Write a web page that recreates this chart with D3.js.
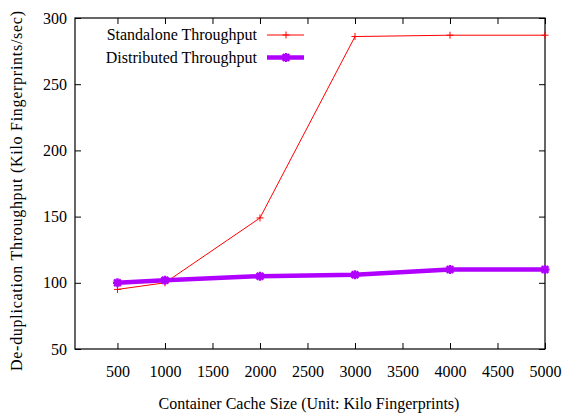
<!DOCTYPE html>
<html><head><meta charset="utf-8">
<script src="https://cdn.jsdelivr.net/npm/d3@7"></script>
<style>body{margin:0;background:#fff}svg{display:block}text{font-family:"Liberation Serif","Times New Roman",serif;fill:#000}</style>
</head><body><svg id="c" width="564" height="414"></svg>
<script>
const cacheSizes = [500, 1000, 2000, 3000, 4000, 5000];
const standalone = [95, 100, 149, 286, 287, 287];
const distributed = [100, 102, 105, 106, 110, 110];
const xTicks = [500, 1000, 1500, 2000, 2500, 3000, 3500, 4000, 4500, 5000];
const yTicks = [50, 100, 150, 200, 250, 300];
const seriesNames = ["Standalone Throughput", "Distributed Throughput"];

const svg = d3.select("#c");
const L = 75, R = 545, T = 18, B = 349;
const x = d3.scaleLinear().domain([53, 5000]).range([L, R]);
const y = d3.scaleLinear().domain([50, 300]).range([B, T]);
const FONT = "Liberation Serif, Times New Roman, serif";
const fs = "16px";

svg.append("rect").attr("x", L).attr("y", T).attr("width", R - L).attr("height", B - T)
  .attr("fill", "none").attr("stroke", "#000").attr("stroke-width", 1.2);

const ax = svg.append("g").attr("transform", `translate(0,${B})`)
  .call(d3.axisBottom(x).tickValues(xTicks).tickSize(-6).tickPadding(17).tickFormat(d3.format("d")));
const axT = svg.append("g").attr("transform", `translate(0,${T})`)
  .call(d3.axisTop(x).tickValues(xTicks).tickSize(-6).tickFormat(""));
const ay = svg.append("g").attr("transform", `translate(${L},0)`)
  .call(d3.axisLeft(y).tickValues(yTicks).tickSize(-6).tickPadding(8));
const ayR = svg.append("g").attr("transform", `translate(${R},0)`)
  .call(d3.axisRight(y).tickValues(yTicks).tickSize(-6).tickFormat(""));
[ax, axT, ay, ayR].forEach(g => {
  g.attr("font-family", FONT).attr("font-size", 16);
  g.select(".domain").remove();
  g.selectAll("line").attr("stroke", "#000").attr("stroke-width", 1);
  g.selectAll("text").style("font-size", fs).style("font-family", FONT);
});

const redC = "#ff0000", purC = "#b000ff";
const line = d3.line().x((d, i) => x(cacheSizes[i])).y(d => y(d));
svg.append("path").datum(standalone).attr("d", line).attr("fill", "none")
  .attr("stroke", redC).attr("stroke-width", 1);
svg.append("path").datum(distributed).attr("d", line).attr("fill", "none")
  .attr("stroke", purC).attr("stroke-width", 4.5).attr("stroke-linejoin", "round");

function plus(g, cx, cy, s, c, w) {
  g.append("path").attr("d", `M${cx - s},${cy}H${cx + s}M${cx},${cy - s}V${cy + s}`)
    .attr("stroke", c).attr("stroke-width", w).attr("fill", "none");
}
function star(g, cx, cy, s, c, w) {
  g.append("path").attr("d", `M${cx - s},${cy}H${cx + s}M${cx},${cy - s}V${cy + s}M${cx - s*0.75},${cy - s*0.75}L${cx + s*0.75},${cy + s*0.75}M${cx - s*0.75},${cy + s*0.75}L${cx + s*0.75},${cy - s*0.75}`)
    .attr("stroke", c).attr("stroke-width", w).attr("fill", "none");
}
standalone.forEach((v, i) => plus(svg, x(cacheSizes[i]), y(v), 3.5, redC, 1));
distributed.forEach((v, i) => star(svg, x(cacheSizes[i]), y(v), 4.5, purC, 2.5));

const lg = svg.append("g");
[[seriesNames[0], 35, redC, 1, plus], [seriesNames[1], 57.5, purC, 4.5, star]].forEach(([t, ly, c, w, m]) => {
  lg.append("text").attr("x", 257).attr("y", ly).attr("dy", "0.33em").attr("text-anchor", "end")
    .style("font-size", fs).style("font-family", FONT).text(t);
  lg.append("line").attr("x1", 267).attr("x2", 304).attr("y1", ly).attr("y2", ly)
    .attr("stroke", c).attr("stroke-width", w);
  m(lg, 286, ly, w === 1 ? 3.5 : 4.5, c, w === 1 ? 1 : 2.5);
});

svg.append("text").attr("x", 309).attr("y", 409).attr("text-anchor", "middle")
  .style("font-size", fs).style("font-family", FONT).text("Container Cache Size (Unit: Kilo Fingerprints)");
svg.append("text").attr("transform", "translate(22,191) rotate(-90)").attr("text-anchor", "middle")
  .attr("textLength", 360).attr("lengthAdjust", "spacing")
  .style("font-size", fs).style("font-family", FONT).text("De-duplication Throughput (Kilo Fingerprints/sec)");
</script></body></html>
